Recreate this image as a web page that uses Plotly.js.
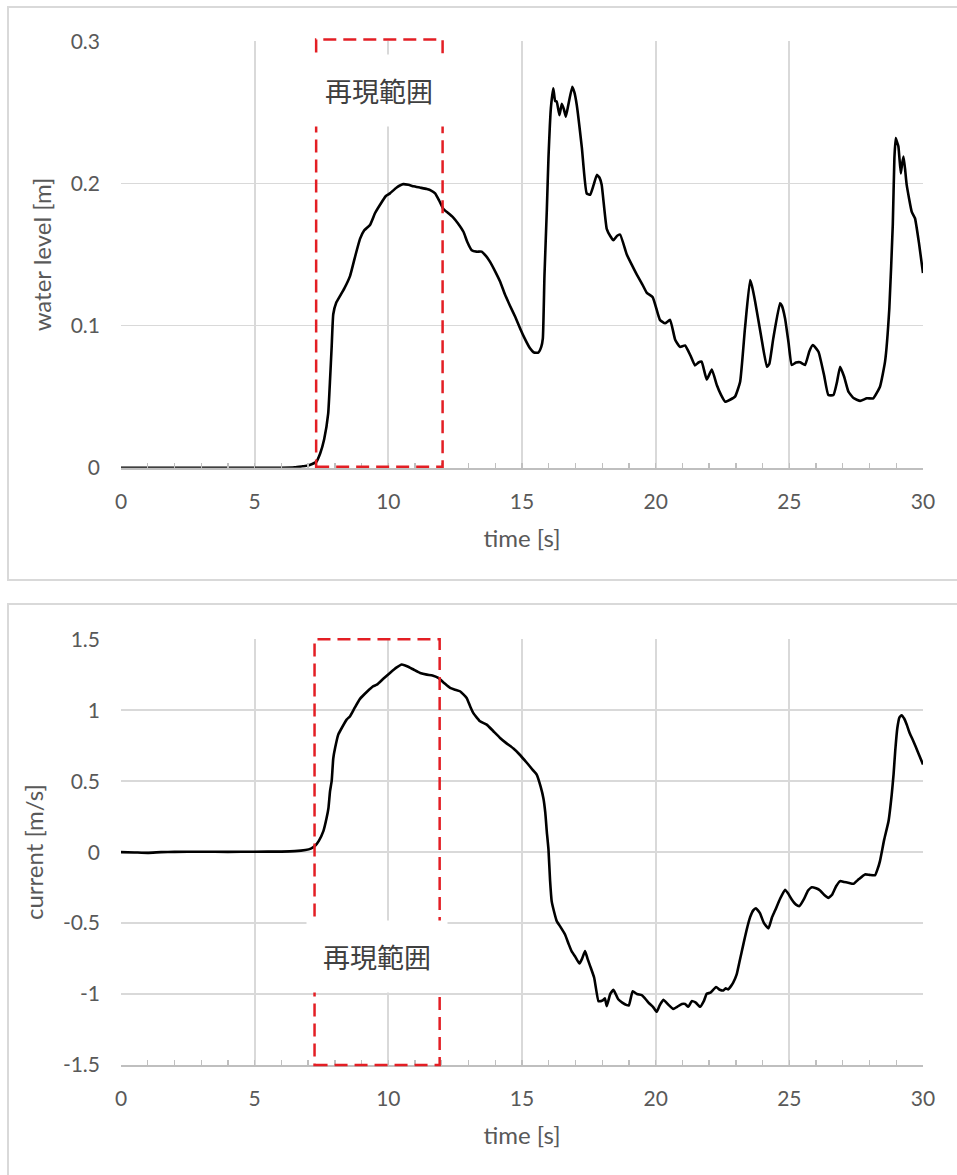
<!DOCTYPE html>
<html>
<head>
<meta charset="utf-8">
<script src="https://cdn.plot.ly/plotly-3.0.1.min.js"></script>
<style>html,body{margin:0;padding:0;background:#fff;}#chart{width:957px;height:1175px;}</style>
</head>
<body>
<div id="chart"></div>
<script>
// ---- Data ----
const levelTime = [0,1,2,3,4,5,6,6.5,6.8,7.0,7.3,7.45,7.6,7.75,7.82,7.88,7.94,8.05,8.2,8.35,8.57,8.75,8.94,9.1,9.32,9.5,9.69,9.9,10.06,10.3,10.56,10.75,10.94,11.2,11.44,11.6,11.75,11.9,12.06,12.25,12.43,12.6,12.81,12.95,13.12,13.3,13.49,13.65,13.8,14.0,14.18,14.36,14.55,14.75,14.93,15.1,15.3,15.45,15.61,15.72,15.78,15.84,15.93,15.99,16.08,16.17,16.24,16.3,16.4,16.49,16.57,16.64,16.73,16.88,16.96,17.05,17.24,17.42,17.55,17.68,17.8,17.9,17.98,18.17,18.3,18.42,18.55,18.67,18.92,19.1,19.29,19.5,19.67,19.89,20.16,20.35,20.54,20.73,20.91,21.1,21.3,21.47,21.6,21.72,21.91,22.1,22.29,22.45,22.6,22.8,22.97,23.16,23.34,23.53,23.6,23.72,23.95,24.16,24.25,24.4,24.65,24.72,24.84,24.97,25.09,25.25,25.4,25.59,25.75,25.88,26.09,26.3,26.46,26.65,26.78,26.9,27.05,27.21,27.4,27.65,27.9,28.14,28.39,28.58,28.74,28.87,28.93,28.98,29.03,29.08,29.17,29.22,29.27,29.33,29.39,29.58,29.7,29.85,30.0];
const waterLevel = [0,0,0,0,0,0,0,0.0003,0.001,0.0015,0.004,0.010,0.020,0.038,0.062,0.085,0.108,0.116,0.121,0.126,0.135,0.148,0.161,0.167,0.171,0.179,0.185,0.191,0.193,0.197,0.1995,0.199,0.198,0.197,0.196,0.195,0.193,0.188,0.182,0.179,0.176,0.172,0.166,0.159,0.153,0.152,0.152,0.149,0.145,0.138,0.131,0.122,0.114,0.106,0.098,0.091,0.084,0.081,0.081,0.085,0.091,0.135,0.182,0.218,0.253,0.267,0.258,0.2575,0.248,0.256,0.252,0.247,0.255,0.268,0.264,0.255,0.225,0.193,0.192,0.199,0.206,0.204,0.199,0.168,0.163,0.160,0.163,0.164,0.150,0.143,0.136,0.129,0.123,0.120,0.104,0.1016,0.104,0.090,0.085,0.086,0.079,0.072,0.074,0.0746,0.062,0.069,0.058,0.051,0.0464,0.048,0.050,0.0605,0.098,0.132,0.128,0.117,0.092,0.071,0.073,0.091,0.1157,0.114,0.105,0.088,0.0723,0.074,0.0742,0.0723,0.082,0.0863,0.0816,0.065,0.0511,0.0511,0.060,0.071,0.064,0.0535,0.049,0.047,0.0488,0.0488,0.057,0.0746,0.112,0.171,0.218,0.232,0.229,0.226,0.207,0.214,0.219,0.210,0.199,0.180,0.1755,0.158,0.137];

const currentTime = [0,0.5,1,1.5,2,3,4,5,6,6.5,6.9,7.1,7.26,7.4,7.57,7.69,7.76,7.82,7.88,7.94,8.01,8.13,8.19,8.44,8.57,8.75,8.94,9.2,9.44,9.57,9.8,10.06,10.3,10.5,10.7,10.94,11.19,11.44,11.65,11.87,12.1,12.31,12.5,12.68,12.93,13.06,13.18,13.43,13.68,13.93,14.18,14.4,14.68,14.9,15.18,15.4,15.55,15.7,15.8,15.87,15.93,15.99,16.05,16.11,16.2,16.3,16.45,16.61,16.75,16.86,17.0,17.15,17.25,17.36,17.45,17.55,17.7,17.86,17.95,18.02,18.1,18.17,18.3,18.42,18.6,18.75,18.92,19.0,19.14,19.3,19.48,19.6,19.73,19.9,20.04,20.15,20.29,20.45,20.66,20.8,20.98,21.1,21.22,21.35,21.5,21.66,21.8,21.91,22.05,22.26,22.4,22.53,22.62,22.72,22.9,23.03,23.15,23.28,23.4,23.53,23.65,23.75,23.9,24.05,24.22,24.35,24.47,24.65,24.84,24.95,25.09,25.25,25.38,25.55,25.7,25.84,26.0,26.15,26.3,26.46,26.6,26.75,26.9,27.05,27.2,27.4,27.6,27.83,28.0,28.21,28.3,28.39,28.55,28.71,28.83,28.9,28.96,29.04,29.12,29.2,29.3,29.39,29.5,29.64,29.8,30.0];
const currentSpeed = [0,-0.002,-0.005,0,0.002,0.003,0.002,0.003,0.004,0.007,0.015,0.025,0.045,0.08,0.148,0.24,0.31,0.43,0.50,0.66,0.735,0.83,0.852,0.934,0.958,1.02,1.08,1.13,1.17,1.18,1.22,1.263,1.30,1.322,1.31,1.287,1.263,1.251,1.245,1.228,1.19,1.157,1.145,1.134,1.087,1.028,0.98,0.922,0.899,0.852,0.805,0.77,0.73,0.69,0.63,0.58,0.547,0.46,0.38,0.28,0.14,0.02,-0.2,-0.345,-0.42,-0.486,-0.53,-0.58,-0.65,-0.70,-0.74,-0.785,-0.75,-0.697,-0.75,-0.803,-0.885,-1.05,-1.05,-1.045,-1.03,-1.085,-1.0,-0.97,-1.037,-1.06,-1.078,-1.08,-0.98,-1.0,-1.007,-1.03,-1.06,-1.09,-1.125,-1.08,-1.04,-1.07,-1.105,-1.09,-1.07,-1.07,-1.09,-1.05,-1.06,-1.09,-1.05,-0.998,-0.99,-0.95,-0.97,-0.975,-0.96,-0.967,-0.92,-0.862,-0.76,-0.65,-0.55,-0.46,-0.41,-0.395,-0.43,-0.50,-0.537,-0.46,-0.41,-0.33,-0.265,-0.29,-0.333,-0.37,-0.38,-0.33,-0.27,-0.247,-0.255,-0.27,-0.30,-0.322,-0.30,-0.24,-0.204,-0.21,-0.215,-0.223,-0.19,-0.157,-0.16,-0.162,-0.12,-0.063,0.09,0.218,0.406,0.55,0.711,0.875,0.95,0.965,0.94,0.90,0.84,0.782,0.71,0.618];

// reproduction range (再現範囲) and its label positions
const rangeLabel = '再現範囲';
const levelRange = [7.3, 12.03];
const currentRange = [7.24, 11.92];
const levelLabelY = 0.2655;
const currentLabelY = -0.735;

// tick labels
const xTickVals = [0, 5, 10, 15, 20, 25, 30];
const levelTickVals = [0, 0.1, 0.2, 0.3];
const levelTickText = ['0', '0.1', '0.2', '0.3'];
const currentTickVals = [-1.5, -1, -0.5, 0, 0.5, 1, 1.5];
const currentTickText = ['-1.5', '-1', '-0.5', '0', '0.5', '1', '1.5'];

const xTitle = 'time [s]';
const levelTitle = 'water level [m]';
const currentTitle = 'current [m/s]';

// ---- Styling ----
const W = 957, H = 1175;
const gridC = '#d9d9d9', axC = '#bfbfbf', txtC = '#595959';
const tickFont = {family: 'Lato, "Liberation Sans", sans-serif', size: 21, color: txtC};
const titleFont = {family: 'Lato, "Liberation Sans", sans-serif', size: 24, color: txtC};
const red = '#e31e24';

const xDom = [121 / W, 923 / W];
const yDomTop = [1 - 467.7 / H, 1 - 41.3 / H];
const yDomBot = [1 - 1065 / H, 1 - 639.3 / H];

function xAxis(anchor) {
  return {
    domain: xDom, anchor: anchor, range: [0, 30], tickmode: 'array', tickvals: xTickVals,
    showgrid: true, gridcolor: gridC, gridwidth: 1.8, zeroline: false,
    showline: true, linecolor: axC, linewidth: 1.8,
    ticks: 'inside', ticklen: 5, tickcolor: axC, tickwidth: 1.3,
    minor: {dtick: 1, ticks: 'inside', ticklen: 5, tickcolor: axC, tickwidth: 1.3, showgrid: false},
    tickfont: tickFont, ticklabelstandoff: 14,
    title: {text: xTitle, font: titleFont, standoff: 18},
    fixedrange: true
  };
}
function yAxis(anchor, dom, rng, vals, text, title) {
  return {
    domain: dom, anchor: anchor, range: rng, tickmode: 'array', tickvals: vals, ticktext: text,
    showgrid: true, gridcolor: gridC, gridwidth: 1.8, zeroline: false, showline: false,
    ticks: '', tickfont: tickFont, ticklabelstandoff: 20,
    title: {text: title, font: titleFont, standoff: 12},
    fixedrange: true
  };
}

const traces = [
  {x: levelTime, y: waterLevel, xaxis: 'x', yaxis: 'y', type: 'scatter', mode: 'lines',
   line: {color: '#000', width: 2.6, shape: 'spline', smoothing: 0.4}, hoverinfo: 'skip'},
  {x: currentTime, y: currentSpeed, xaxis: 'x2', yaxis: 'y2', type: 'scatter', mode: 'lines',
   line: {color: '#000', width: 2.6, shape: 'spline', smoothing: 0.4}, hoverinfo: 'skip'}
];

const dashLine = {color: red, width: 2.5, dash: '13px,7px'};
const layout = {
  width: W, height: H, margin: {l: 0, r: 0, t: 0, b: 0},
  paper_bgcolor: '#fff', plot_bgcolor: '#fff', showlegend: false,
  xaxis: xAxis('y'),
  yaxis: yAxis('x', yDomTop, [0, 0.3], levelTickVals, levelTickText, levelTitle),
  xaxis2: xAxis('y2'),
  yaxis2: yAxis('x2', yDomBot, [-1.5, 1.5], currentTickVals, currentTickText, currentTitle),
  shapes: [
    // panel frames
    {type: 'rect', xref: 'paper', yref: 'paper', x0: 8 / W, x1: 1.01, y0: 1 - 580 / H, y1: 1 - 7 / H,
     line: {color: '#d9d9d9', width: 2}, fillcolor: 'rgba(0,0,0,0)', layer: 'below'},
    {type: 'rect', xref: 'paper', yref: 'paper', x0: 8 / W, x1: 1.01, y0: -0.01, y1: 1 - 604 / H,
     line: {color: '#d9d9d9', width: 2}, fillcolor: 'rgba(0,0,0,0)', layer: 'below'},
    // reproduction range boxes
    {type: 'rect', xref: 'x', yref: 'y domain', x0: levelRange[0], x1: levelRange[1], y0: 0.002, y1: 1.004,
     line: dashLine, fillcolor: 'rgba(0,0,0,0)', layer: 'above'},
    {type: 'rect', xref: 'x2', yref: 'y2 domain', x0: currentRange[0], x1: currentRange[1], y0: 0, y1: 1,
     line: dashLine, fillcolor: 'rgba(0,0,0,0)', layer: 'above'}
  ],
  annotations: [
    {text: rangeLabel, xref: 'x', yref: 'y', x: (levelRange[0] + levelRange[1]) / 2, y: levelLabelY,
     showarrow: false, bgcolor: '#fff', borderpad: 16,
     font: {family: '"Noto Sans CJK JP", sans-serif', size: 27, color: '#404040'}},
    {text: rangeLabel, xref: 'x2', yref: 'y2', x: (currentRange[0] + currentRange[1]) / 2, y: currentLabelY,
     showarrow: false, bgcolor: '#fff', borderpad: 16,
     font: {family: '"Noto Sans CJK JP", sans-serif', size: 27, color: '#404040'}}
  ]
};

Plotly.newPlot('chart', traces, layout, {staticPlot: true, displayModeBar: false});
</script>
</body>
</html>
